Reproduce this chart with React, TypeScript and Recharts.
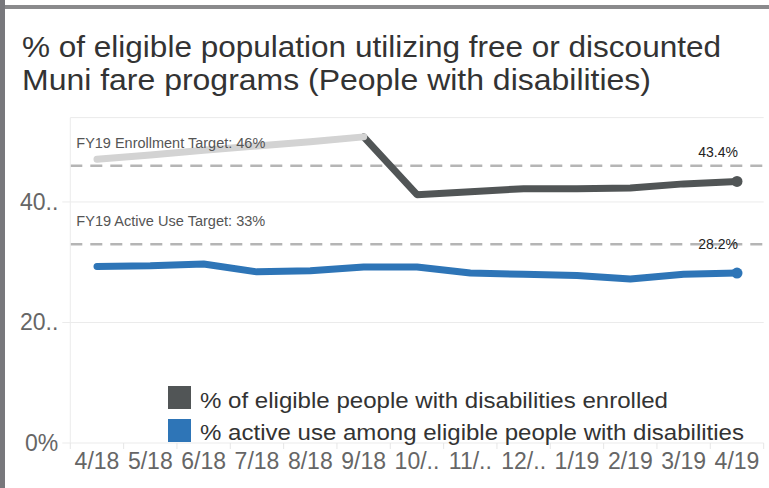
import React from 'react';
import { LineChart, Line, XAxis, YAxis, CartesianGrid, ReferenceLine } from 'recharts';

const categories = ['4/18', '5/18', '6/18', '7/18', '8/18', '9/18', '10/..', '11/..', '12/..', '1/19', '2/19', '3/19', '4/19'];
const enrolledEarly: (number | null)[] = [47.1, 47.8, 48.6, 49.3, 50.0, 50.8, null, null, null, null, null, null, null];
const enrolled: (number | null)[] = [null, null, null, null, null, 50.8, 41.2, 41.7, 42.2, 42.2, 42.3, 43.0, 43.4];
const activeUse: number[] = [29.3, 29.4, 29.7, 28.4, 28.6, 29.2, 29.2, 28.2, 28.0, 27.8, 27.2, 28.0, 28.2];
const yTicks = [0, 20, 40];
const yTickLabels: Record<number, string> = { 0: '0%', 20: '20..', 40: '40..' };
const enrollTarget = 46;
const activeTarget = 33;
const titleLines = [
  { text: '% of eligible population utilizing free or discounted', width: 699 },
  { text: 'Muni fare programs (People with disabilities)', width: 629 },
];
const legendItems = [
  { label: '% of eligible people with disabilities enrolled', color: '#515556', width: 468 },
  { label: '% active use among eligible people with disabilities', color: '#2e75b7', width: 544 },
];

const data = categories.map((c, i) => ({
  month: c,
  early: enrolledEarly[i],
  enrolled: enrolled[i],
  active: activeUse[i],
}));

const FONT = '"Liberation Sans", Arial, sans-serif';
const PAD = 26.7;
const lastIdx = categories.length - 1;

const XTick = (props: any) => {
  const { x, y, payload, index } = props;
  const axisY = y - 8;
  return (
    <g>
      <line x1={x - PAD} x2={x - PAD} y1={axisY} y2={axisY + 6} stroke="#e6e6e6" strokeWidth={1} />
      {index === lastIdx && (
        <line x1={x + PAD} x2={x + PAD} y1={axisY} y2={axisY + 6} stroke="#e6e6e6" strokeWidth={1} />
      )}
      <text x={x} y={y} dy={18} textAnchor="middle" fill="#666" fontSize={23} fontFamily={FONT}>
        {payload.value}
      </text>
    </g>
  );
};

const YTick = (props: any) => {
  const { x, y, payload } = props;
  return (
    <text x={x} y={y} dy={8} textAnchor="end" fill="#666" fontSize={23} fontFamily={FONT}>
      {yTickLabels[payload.value] ?? payload.value}
    </text>
  );
};

const makeEndDot = (color: string) => (props: any) => {
  const { cx, cy, index } = props;
  if (index !== lastIdx || cy == null) return <g key={`d${index}`} />;
  return <circle key={`d${index}`} cx={cx} cy={cy} r={5.5} fill={color} stroke="none" />;
};

const makeEndLabel = (text: string) => (props: any) => {
  const { x, y, index } = props;
  if (index !== lastIdx || y == null) return <g key={`l${index}`} />;
  return (
    <text key={`l${index}`} x={x + 1} y={y - 24.5} textAnchor="end" fill="#222" fontSize={14} fontFamily={FONT}>
      {text}
    </text>
  );
};

const refLabel = (text: string) => (props: any) => {
  const { viewBox } = props;
  return (
    <text
      x={viewBox.x + 6}
      y={viewBox.y - 18}
      fill="#555"
      fontSize={14}
      fontFamily={FONT}
      textLength={189}
      lengthAdjust="spacingAndGlyphs"
    >
      {text}
    </text>
  );
};

export default function App() {
  return (
    <div style={{ position: 'absolute', left: 0, top: 0, width: 769, height: 488, background: '#fff', overflow: 'hidden' }}>
      <div style={{ position: 'absolute', left: 0, top: 5, width: 769, height: 4, background: '#8a8a8c' }} />
      <div style={{ position: 'absolute', left: 0, top: 0, width: 5, height: 488, background: '#78787c' }} />
      <svg width={769} height={120} style={{ position: 'absolute', left: 0, top: 0 }}>
        {titleLines.map((t, i) => (
          <text
            key={t.text}
            x={22}
            y={57 + i * 33}
            fill="#333"
            fontSize={29}
            fontFamily={FONT}
            textLength={t.width}
            lengthAdjust="spacingAndGlyphs"
          >
            {t.text}
          </text>
        ))}
      </svg>
      <div style={{ position: 'absolute', left: 0, top: 0 }}>
        <LineChart width={769} height={488} data={data} margin={{ top: 117.6, right: 5.3, bottom: 0, left: 0 }}>
          <CartesianGrid horizontal vertical={false} stroke="#ebebeb" strokeWidth={1} />
          <XAxis
            dataKey="month"
            height={45}
            interval={0}
            padding={{ left: PAD, right: PAD }}
            axisLine={false}
            tickLine={false}
            tick={<XTick />}
          />
          <YAxis
            width={70.3}
            domain={[0, 54]}
            ticks={yTicks}
            interval={0}
            axisLine={{ stroke: '#ebebeb' }}
            tickLine={{ stroke: '#ebebeb' }}
            tickSize={8}
            tickMargin={4}
            tick={<YTick />}
          />
          <ReferenceLine y={enrollTarget} stroke="#b5b5b5" strokeWidth={2.5} strokeDasharray="12 8" />
          <ReferenceLine y={activeTarget} stroke="#b5b5b5" strokeWidth={2.5} strokeDasharray="12 8" />
          <Line
            dataKey="enrolled"
            stroke="#515556"
            strokeWidth={7}
            strokeLinecap="round"
            strokeLinejoin="round"
            dot={makeEndDot('#515556')}
            activeDot={false}
            label={makeEndLabel('43.4%')}
            isAnimationActive={false}
            connectNulls={false}
          />
          <Line
            dataKey="early"
            stroke="#d3d3d3"
            strokeWidth={7}
            strokeLinecap="round"
            strokeLinejoin="round"
            dot={false}
            activeDot={false}
            isAnimationActive={false}
          />
          <Line
            dataKey="active"
            stroke="#2e75b7"
            strokeWidth={7}
            strokeLinecap="round"
            strokeLinejoin="round"
            dot={makeEndDot('#2e75b7')}
            activeDot={false}
            label={makeEndLabel('28.2%')}
            isAnimationActive={false}
          />
          <ReferenceLine
            y={enrollTarget}
            stroke="none"
            zIndex={2000}
            label={refLabel('FY19 Enrollment Target: 46%')}
          />
          <ReferenceLine
            y={activeTarget}
            stroke="none"
            zIndex={2000}
            label={refLabel('FY19 Active Use Target: 33%')}
          />
        </LineChart>
      </div>
      <div style={{ position: 'absolute', left: 0, top: 0 }}>
        <svg width={769} height={488}>
          {legendItems.map((item, i) => (
            <g key={item.label}>
              <rect x={168} y={386 + i * 33} width={23} height={23} fill={item.color} />
              <text
                x={200}
                y={407.5 + i * 32.5}
                fill="#333"
                fontSize={22}
                fontFamily={FONT}
                textLength={item.width}
                lengthAdjust="spacingAndGlyphs"
              >
                {item.label}
              </text>
            </g>
          ))}
        </svg>
      </div>
    </div>
  );
}
